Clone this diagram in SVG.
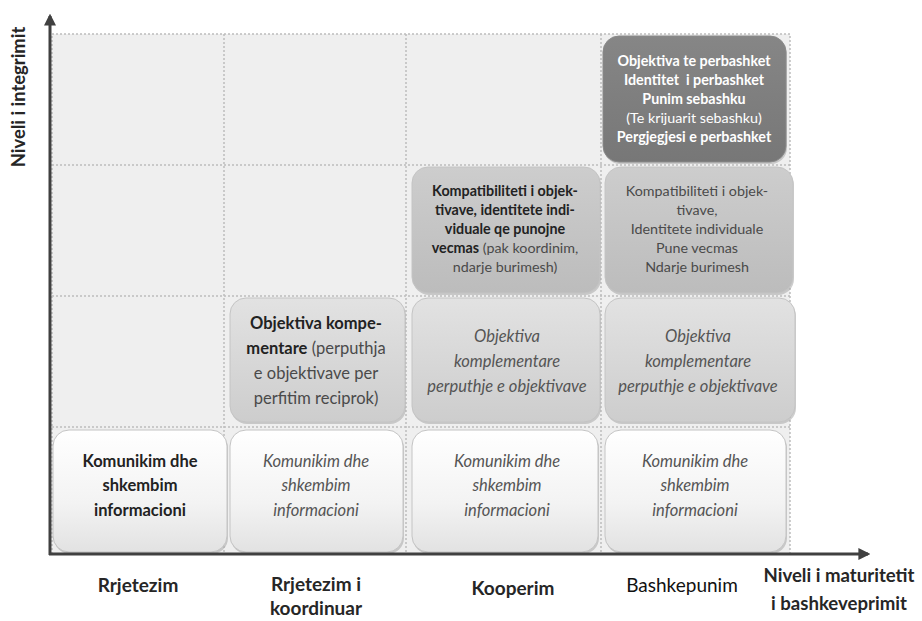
<svg xmlns="http://www.w3.org/2000/svg" width="922" height="621" viewBox="0 0 922 621">
<defs>
<linearGradient id="gWhite" x1="0" y1="0" x2="0" y2="1"><stop offset="0" stop-color="#ffffff"/><stop offset="0.6" stop-color="#f3f3f3"/><stop offset="1" stop-color="#e2e2e2"/></linearGradient>
<linearGradient id="gLight" x1="0" y1="0" x2="0" y2="1"><stop offset="0" stop-color="#e2e2e2"/><stop offset="1" stop-color="#cdcdcd"/></linearGradient>
<linearGradient id="gMid" x1="0" y1="0" x2="0" y2="1"><stop offset="0" stop-color="#cdcdcd"/><stop offset="1" stop-color="#bcbcbc"/></linearGradient>
<linearGradient id="gDark" x1="0" y1="0" x2="0" y2="1"><stop offset="0" stop-color="#868686"/><stop offset="1" stop-color="#777777"/></linearGradient>
<marker id="arr" viewBox="0 0 10 10" refX="8" refY="5" markerWidth="4" markerHeight="4" orient="auto"><path d="M0,0 L10,5 L0,10 z" fill="#404040"/></marker>
</defs>
<style>
.t{font-family:Lato,"Open Sans","Liberation Sans",sans-serif;text-anchor:middle}
.b{font-weight:bold;fill:#222222}
.it{font-style:italic;fill:#555555}
.r{fill:#4a4a4a}
.w{fill:#ffffff}
.grid{stroke:#bdbdbd;stroke-width:1.5;stroke-dasharray:2 2;fill:none}
.box{stroke:#c4c4c4;stroke-width:1}
.sh{fill:#a8a8a8;opacity:0.55}
.ax{font-family:Lato,"Open Sans","Liberation Sans",sans-serif;font-weight:bold;fill:#262626;text-anchor:middle;font-size:19px}
</style>
<rect width="922" height="621" fill="#ffffff"/>
<g id="grid">
<rect x="52" y="34" width="738" height="520" fill="#efefef"/>
<rect x="52" y="34" width="738" height="520" class="grid"/>
<line x1="224" y1="34" x2="224" y2="554" class="grid"/>
<line x1="406" y1="34" x2="406" y2="554" class="grid"/>
<line x1="601" y1="34" x2="601" y2="554" class="grid"/>
<line x1="52" y1="165" x2="790" y2="165" class="grid"/>
<line x1="52" y1="296" x2="790" y2="296" class="grid"/>
<line x1="52" y1="427" x2="790" y2="427" class="grid"/>
</g>
<g id="b11">
<rect x="54" y="432" width="174" height="122" rx="16" class="sh"/>
<rect x="53" y="430" width="174" height="122" rx="16" fill="url(#gWhite)" class="box"/>
<text class="t b" font-size="16.5"><tspan x="140" y="467">Komunikim dhe</tspan><tspan x="140" y="491">shkembim</tspan><tspan x="140" y="516">informacioni</tspan></text>
</g>
<g id="b12">
<rect x="231" y="432" width="173" height="122" rx="16" class="sh"/>
<rect x="230" y="430" width="173" height="122" rx="16" fill="url(#gWhite)" class="box"/>
<text class="t it" font-size="16.5"><tspan x="316" y="467">Komunikim dhe</tspan><tspan x="316" y="491">shkembim</tspan><tspan x="316" y="516">informacioni</tspan></text>
</g>
<g id="b13">
<rect x="413" y="432" width="186" height="122" rx="16" class="sh"/>
<rect x="412" y="430" width="186" height="122" rx="16" fill="url(#gWhite)" class="box"/>
<text class="t it" font-size="16.5"><tspan x="507" y="467">Komunikim dhe</tspan><tspan x="507" y="491">shkembim</tspan><tspan x="507" y="516">informacioni</tspan></text>
</g>
<g id="b14">
<rect x="606" y="432" width="181" height="122" rx="16" class="sh"/>
<rect x="605" y="430" width="181" height="122" rx="16" fill="url(#gWhite)" class="box"/>
<text class="t it" font-size="16.5"><tspan x="695" y="467">Komunikim dhe</tspan><tspan x="695" y="491">shkembim</tspan><tspan x="695" y="516">informacioni</tspan></text>
</g>
<g id="b22">
<rect x="231" y="300" width="175" height="124" rx="16" class="sh"/>
<rect x="230" y="298" width="175" height="124" rx="16" fill="url(#gLight)" class="box"/>
<text class="t" font-size="16.5"><tspan x="316" y="329" class="b">Objektiva kompe-</tspan><tspan x="316" y="354"><tspan class="b">mentare</tspan><tspan class="r"> (perputhja</tspan></tspan><tspan x="316" y="379" class="r">e objektivave per</tspan><tspan x="316" y="404" class="r">perfitim reciprok)</tspan></text>
</g>
<g id="b23">
<rect x="413" y="300" width="188" height="124" rx="16" class="sh"/>
<rect x="412" y="298" width="188" height="124" rx="16" fill="url(#gLight)" class="box"/>
<text class="t it" font-size="16.5"><tspan x="507" y="342">Objektiva</tspan><tspan x="507" y="367">komplementare</tspan><tspan x="507" y="392">perputhje e objektivave</tspan></text>
</g>
<g id="b24">
<rect x="606" y="300" width="190" height="124" rx="16" class="sh"/>
<rect x="605" y="298" width="190" height="124" rx="16" fill="url(#gLight)" class="box"/>
<text class="t it" font-size="16.5"><tspan x="698" y="342">Objektiva</tspan><tspan x="698" y="367">komplementare</tspan><tspan x="698" y="392">perputhje e objektivave</tspan></text>
</g>
<g id="b33">
<rect x="413" y="169" width="188" height="126" rx="16" class="sh"/>
<rect x="412" y="167" width="188" height="126" rx="16" fill="url(#gMid)" class="box"/>
<text class="t" font-size="14.3"><tspan x="505" y="196" class="b">Kompatibiliteti i objek-</tspan><tspan x="505" y="215" class="b">tivave, identitete indi-</tspan><tspan x="505" y="234" class="b">viduale qe punojne</tspan><tspan x="505" y="253"><tspan class="b">vecmas</tspan><tspan class="r"> (pak koordinim,</tspan></tspan><tspan x="505" y="272" class="r">ndarje burimesh)</tspan></text>
</g>
<g id="b34">
<rect x="606" y="169" width="188" height="126" rx="16" class="sh"/>
<rect x="605" y="167" width="188" height="126" rx="16" fill="url(#gMid)" class="box"/>
<text class="t r" font-size="14.3"><tspan x="697" y="196">Kompatibiliteti i objek-</tspan><tspan x="697" y="215">tivave,</tspan><tspan x="697" y="234">Identitete individuale</tspan><tspan x="697" y="253">Pune vecmas</tspan><tspan x="697" y="272">Ndarje burimesh</tspan></text>
</g>
<g id="b44">
<rect x="604" y="38" width="183" height="126" rx="16" class="sh"/>
<rect x="603" y="36" width="183" height="126" rx="16" fill="url(#gDark)" stroke="#8a8a8a" stroke-width="1"/>
<text class="t w" font-size="14.3"><tspan x="694" y="66" font-weight="bold">Objektiva te perbashket</tspan><tspan x="694" y="85" font-weight="bold" xml:space="preserve">Identitet  i perbashket</tspan><tspan x="694" y="104" font-weight="bold">Punim sebashku</tspan><tspan x="694" y="123">(Te krijuarit sebashku)</tspan><tspan x="694" y="142" font-weight="bold">Pergjegjesi e perbashket</tspan></text>
</g>
<g id="connectors">
<line x1="50" y1="555" x2="50" y2="16" stroke="#404040" stroke-width="3" marker-end="url(#arr)"/>
<line x1="49" y1="554" x2="868" y2="554" stroke="#404040" stroke-width="3" marker-end="url(#arr)"/>
</g>
<g id="labels">
<text class="ax" style="font-size:18.4px" transform="translate(25,97) rotate(-90)">Niveli i integrimit</text>
<text class="ax" x="138" y="592">Rrjetezim</text>
<text class="ax"><tspan x="316" y="591">Rrjetezim i</tspan><tspan x="316" y="615">koordinuar</tspan></text>
<text class="ax" x="513" y="595">Kooperim</text>
<text class="ax" x="682" y="592" style="font-weight:normal;fill:#111">Bashkepunim</text>
<text class="ax" style="font-size:18.6px"><tspan x="839" y="582">Niveli i maturitetit</tspan><tspan x="839" y="610">i bashkeveprimit</tspan></text>
</g>
</svg>
